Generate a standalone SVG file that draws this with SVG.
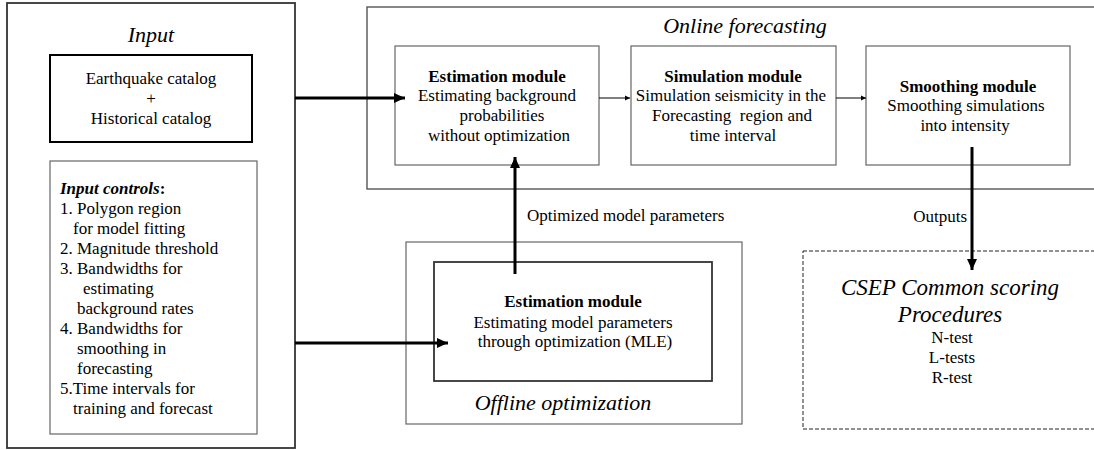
<svg xmlns="http://www.w3.org/2000/svg" width="1094" height="450" viewBox="0 0 1094 450">
  <style>
    text { font-family: "Liberation Serif", "Times New Roman", serif; fill: #000; }
    .t { font-size: 17px; }
    .c { text-anchor: middle; }
    .b { font-weight: bold; }
    .title { font-size: 22px; font-style: italic; }
    .box { fill: #fff; stroke: #666; stroke-width: 1.2; }
    .dark { fill: none; stroke: #333; stroke-width: 1.8; }
    .frame { fill: none; stroke: #555; stroke-width: 1.4; }
    .thick { stroke: #000; stroke-width: 3; fill: none; }
    .thin { stroke: #000; stroke-width: 1; fill: none; }
  </style>
  <defs>
    <marker id="headBig" markerUnits="userSpaceOnUse" markerWidth="12" markerHeight="10" refX="11" refY="5" orient="auto">
      <path d="M0,0 L11,5 L0,10 Z" fill="#000"/>
    </marker>
    <marker id="headSmall" markerUnits="userSpaceOnUse" markerWidth="6" markerHeight="6" refX="5" refY="3" orient="auto">
      <path d="M0,0.5 L5,3 L0,5.5 Z" fill="#000"/>
    </marker>
  </defs>
  <rect width="1094" height="450" fill="#fff"/>

  <!-- Input panel -->
  <g id="input">
    <rect class="dark" x="7" y="3" width="288" height="445"/>
    <text class="title c" x="151" y="42">Input</text>
  </g>
  <g id="catalogs">
    <rect x="50" y="55" width="202" height="87" fill="#fff" stroke="#000" stroke-width="2"/>
    <text class="t c" x="151" y="84">Earthquake catalog</text>
    <text class="t c" x="151" y="104">+</text>
    <text class="t c" x="151" y="124">Historical catalog</text>
  </g>
  <g id="input-controls">
    <rect class="box" x="50" y="161" width="207" height="273" stroke="#555"/>
    <text class="t" x="60" y="194"><tspan font-weight="bold" font-style="italic">Input controls</tspan><tspan font-weight="bold">:</tspan></text>
    <text class="t" x="60" y="214">1. Polygon region</text>
    <text class="t" x="73" y="234">for model fitting</text>
    <text class="t" x="60" y="254">2. Magnitude threshold</text>
    <text class="t" x="60" y="274">3. Bandwidths for</text>
    <text class="t" x="83" y="294">estimating</text>
    <text class="t" x="77" y="314">background rates</text>
    <text class="t" x="60" y="334">4. Bandwidths for</text>
    <text class="t" x="77" y="354">smoothing in</text>
    <text class="t" x="77" y="374">forecasting</text>
    <text class="t" x="60" y="394">5.Time intervals for</text>
    <text class="t" x="73" y="414">training and forecast</text>
  </g>

  <!-- Online forecasting frame -->
  <g id="online-forecasting">
    <rect class="frame" x="367" y="7" width="740" height="182"/>
    <text class="title c" x="745" y="33">Online forecasting</text>
  </g>
  <g id="estimation-online">
    <rect class="box" x="395" y="46" width="204" height="119"/>
    <text class="t c b" x="497" y="82">Estimation module</text>
    <text class="t c" x="497" y="101">Estimating background</text>
    <text class="t c" x="502" y="121">probabilities</text>
    <text class="t c" x="499" y="141">without optimization</text>
  </g>
  <g id="simulation">
    <rect class="box" x="631" y="46" width="205" height="119"/>
    <text class="t c b" x="733" y="82">Simulation module</text>
    <text class="t c" x="731" y="101">Simulation seismicity in the</text>
    <text class="t c" x="732" y="121" xml:space="preserve">Forecasting  region and</text>
    <text class="t c" x="733" y="141">time interval</text>
  </g>
  <g id="smoothing">
    <rect class="box" x="866" y="46" width="204" height="119"/>
    <text class="t c b" x="968" y="92">Smoothing module</text>
    <text class="t c" x="966" y="111">Smoothing simulations</text>
    <text class="t c" x="965" y="131">into intensity</text>
  </g>

  <!-- Offline optimization frame -->
  <g id="offline-optimization">
    <rect class="box" x="406" y="242" width="336" height="182"/>
    <text class="title c" x="563" y="410">Offline optimization</text>
  </g>
  <g id="estimation-offline">
    <rect class="dark" x="434" y="262" width="278" height="119" stroke="#222" stroke-width="1.5"/>
    <text class="t c b" x="573" y="307">Estimation module</text>
    <text class="t c" x="573" y="328">Estimating model parameters</text>
    <text class="t c" x="575" y="347">through optimization (MLE)</text>
  </g>

  <!-- Evaluation -->
  <g id="csep">
    <rect x="803" y="251" width="300" height="178" fill="none" stroke="#222" stroke-width="1" stroke-dasharray="4,2"/>
    <text class="c" x="950" y="295" font-size="23" font-style="italic">CSEP Common scoring</text>
    <text class="c" x="950" y="322" font-size="23" font-style="italic">Procedures</text>
    <text class="t c" x="952" y="343">N-test</text>
    <text class="t c" x="952" y="363">L-tests</text>
    <text class="t c" x="952" y="383">R-test</text>
  </g>

  <!-- Connectors -->
  <g id="connectors">
    <line class="thick" x1="295" y1="98" x2="405" y2="98" marker-end="url(#headBig)"/>
    <line class="thick" x1="295" y1="343" x2="448" y2="343" marker-end="url(#headBig)"/>
    <line class="thin" x1="599" y1="98" x2="630" y2="98" marker-end="url(#headSmall)"/>
    <line class="thin" x1="836" y1="98" x2="866" y2="98" marker-end="url(#headSmall)"/>
    <line class="thick" x1="515" y1="274" x2="515" y2="157" marker-end="url(#headBig)"/>
    <line class="thick" x1="972" y1="147" x2="972" y2="270" marker-end="url(#headBig)"/>
    <text class="t" x="527" y="221">Optimized model parameters</text>
    <text class="t" x="967" y="222" text-anchor="end">Outputs</text>
  </g>
</svg>
